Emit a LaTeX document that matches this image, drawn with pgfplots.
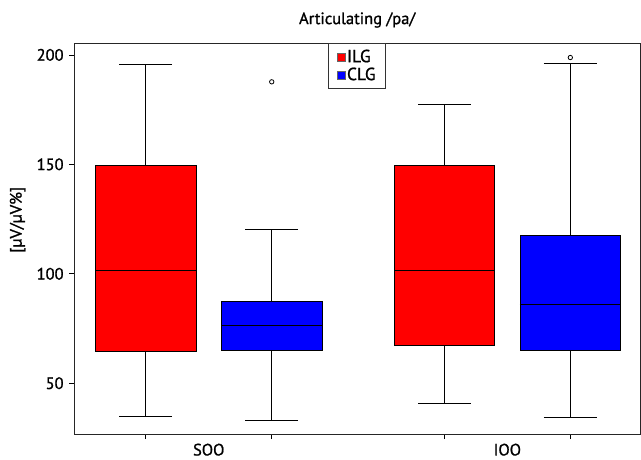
\documentclass[border=0pt]{standalone}
\usepackage{pgfplots}
\pgfplotsset{compat=1.18}
\usepgfplotslibrary{statistics}
\usepackage{fontspec}
\setmainfont{PT Sans}[UprightFeatures={FakeBold=1.1}]
\newcommand{\fs}{\fontsize{16.5}{18}\selectfont}
\begin{document}
\fs
\begin{tikzpicture}
\begin{axis}[
  name=ax,
  scale only axis, width=565.7pt, height=390.7pt,
  xmin=0.433, xmax=4.923, ymin=26.8, ymax=205.3,
  axis line style={line width=0.9pt, black!85},
  /pgf/number format/assume math mode=true,
  ytick={50,100,150,200},
  xtick={1,2,3.371,4.370}, xticklabels={},
  extra x ticks={1.5,3.87}, extra x tick labels={SOO,IOO},
  extra x tick style={major tick length=0pt, tick label style={yshift=-4pt}},
  tick align=outside, major tick length=5pt,
  xtick pos=bottom, ytick pos=left,
  tick style={black, line width=0.8pt},
  tick label style={font=\fs},
  ylabel={[µV/µV\%]},
  ylabel style={at={(ticklabel cs:0.543)}, font=\fs, xshift=2pt},
  title={Articulating /pa/},
  title style={font=\fs, yshift=4pt},
  boxplot/draw direction=y,
  boxplot={box extend=0.8, whisker extend=0.42},
  legend style={at={(0.5,1)}, anchor=north, draw=black!80, line width=0.8pt,
    font=\fontsize{17.5}{18}\selectfont, row sep=-1pt, inner xsep=8pt, inner ysep=4pt,
    cells={anchor=west}},
  legend cell align=left,
]
\addplot[forget plot, fill=red, draw=black, line width=0.8pt,
  boxplot prepared={lower whisker=34.7, lower quartile=64.7, median=101.7,
    upper quartile=149.3, upper whisker=195.7, draw position=1}]
  coordinates {};
\addplot[forget plot, fill=blue, draw=black, line width=0.8pt,
  mark=o, mark size=2.2pt, mark options={fill=none, line width=0.8pt},
  boxplot prepared={lower whisker=33.0, lower quartile=65.2, median=76.6,
    upper quartile=87.6, upper whisker=120.3, draw position=2}]
  table[row sep=\\, y index=0] {187.7\\};
\addplot[forget plot, fill=red, draw=black, line width=0.8pt,
  boxplot prepared={lower whisker=40.8, lower quartile=67.4, median=101.7,
    upper quartile=149.3, upper whisker=177.5, draw position=3.371}]
  coordinates {};
\addplot[forget plot, fill=blue, draw=black, line width=0.8pt,
  mark=o, mark size=2.2pt, mark options={fill=none, line width=0.8pt},
  boxplot prepared={lower whisker=34.3, lower quartile=65.2, median=86.1,
    upper quartile=117.7, upper whisker=196.0, draw position=4.370}]
  table[row sep=\\, y index=0] {198.8\\};
\addlegendimage{legend image code/.code={\draw[fill=red, draw=black!60, line width=0.3pt] (0pt,-4pt) rectangle (8pt,4pt);}}
\addlegendentry{ILG}
\addlegendimage{legend image code/.code={\draw[fill=blue, draw=black!60, line width=0.3pt] (0pt,-4pt) rectangle (8pt,4pt);}}
\addlegendentry{CLG}
\end{axis}
\pgfresetboundingbox
\path ([xshift=-74.3pt,yshift=-25pt]ax.south west) rectangle ([xshift=1pt,yshift=43.3pt]ax.north east);
\end{tikzpicture}
\end{document}
